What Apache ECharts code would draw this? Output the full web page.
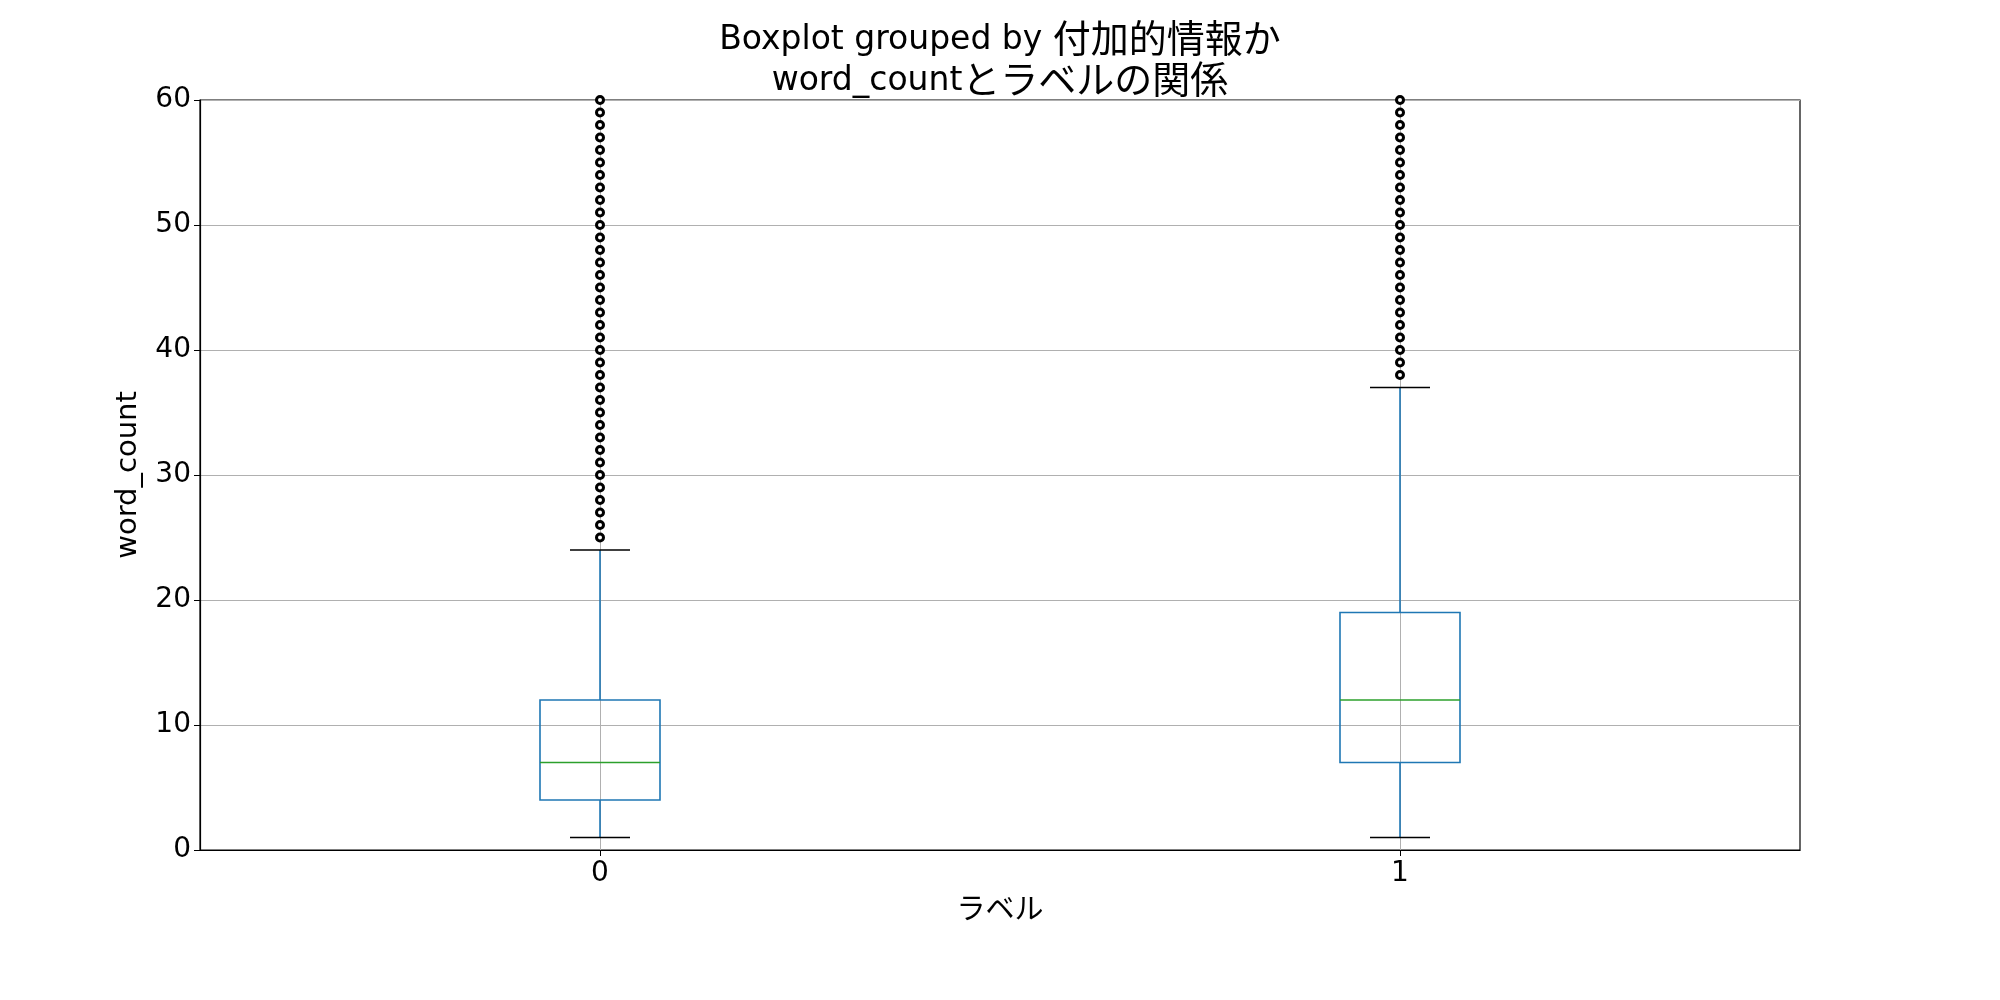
<!DOCTYPE html>
<html>
<head>
<meta charset="utf-8">
<script src="https://cdn.jsdelivr.net/npm/echarts@6/dist/echarts.min.js"></script>
<style>
  html, body { margin: 0; padding: 0; background: #fff; }
  #chart { width: 2000px; height: 1000px; }
</style>
</head>
<body>
<div id="chart"></div>
<script>
// カテゴリ（ラベル）
var categories = ['0', '1'];
// 箱ひげの統計量
var whiskerLow  = [1, 1];
var q1          = [4, 7];
var median      = [7, 12];
var q3          = [12, 19];
var whiskerHigh = [24, 37];
// 外れ値（60以上は軸外）
var outliers0 = [25, 26, 27, 28, 29, 30, 31, 32, 33, 34, 35, 36, 37, 38, 39, 40, 41, 42,
                 43, 44, 45, 46, 47, 48, 49, 50, 51, 52, 53, 54, 55, 56, 57, 58, 59, 60];
var outliers1 = [38, 39, 40, 41, 42, 43, 44, 45, 46, 47, 48, 49, 50, 51, 52, 53, 54, 55,
                 56, 57, 58, 59, 60];
// y軸目盛
var yTicks = [0, 10, 20, 30, 40, 50, 60];

var LATIN = "'DejaVu Sans', 'Noto Sans CJK JP'";
var CJK = "'Noto Sans CJK JP'";

var boxData = categories.map(function (c, i) {
    return [i, whiskerLow[i], q1[i], median[i], q3[i], whiskerHigh[i]];
});
var outlierData = [];
outliers0.forEach(function (v) { outlierData.push([0, v]); });
outliers1.forEach(function (v) { outlierData.push([1, v]); });

function renderBox(params, api) {
    var idx = api.value(0);
    var band = api.size([1, 0])[0];
    var half = band * 0.075;
    var capHalf = band * 0.0375;
    var pLow = api.coord([idx, api.value(1)]);
    var pQ1 = api.coord([idx, api.value(2)]);
    var pMed = api.coord([idx, api.value(3)]);
    var pQ3 = api.coord([idx, api.value(4)]);
    var pHigh = api.coord([idx, api.value(5)]);
    var cx = pMed[0];
    var blue = {stroke: '#1f77b4', lineWidth: 1.6, fill: null};
    return {
        type: 'group',
        children: [
            {type: 'line', shape: {x1: cx, y1: pQ1[1], x2: cx, y2: pLow[1]}, style: blue},
            {type: 'line', shape: {x1: cx, y1: pQ3[1], x2: cx, y2: pHigh[1]}, style: blue},
            {type: 'rect', shape: {x: cx - half, y: pQ3[1], width: half * 2, height: pQ1[1] - pQ3[1]}, style: blue},
            {type: 'line', shape: {x1: cx - half, y1: pMed[1], x2: cx + half, y2: pMed[1]},
                style: {stroke: '#2ca02c', lineWidth: 1.6}},
            {type: 'line', shape: {x1: cx - capHalf, y1: pLow[1], x2: cx + capHalf, y2: pLow[1]},
                style: {stroke: '#000', lineWidth: 1.6}},
            {type: 'line', shape: {x1: cx - capHalf, y1: pHigh[1], x2: cx + capHalf, y2: pHigh[1]},
                style: {stroke: '#000', lineWidth: 1.6}}
        ]
    };
}

// タイトル用リッチテキスト（欧文と和文でサイズを変える）
var titleRich = {
    a: {fontFamily: LATIN, fontSize: 33, fontWeight: 'normal', color: '#000', lineHeight: 44, verticalAlign: 'bottom'},
    c: {fontFamily: CJK, fontSize: 38, fontWeight: 'normal', color: '#000', lineHeight: 44, verticalAlign: 'bottom'}
};

var chart = echarts.init(document.getElementById('chart'));
var option = {
    backgroundColor: '#fff',
    animation: false,
    textStyle: {fontFamily: LATIN},
    title: [
        {
            text: '{a|Boxplot grouped by }{c|付加的情報か}',
            left: 'center',
            top: 8,
            textStyle: {fontWeight: 'normal', rich: titleRich}
        },
        {
            text: '{a|word_count}{c|とラベルの関係}',
            left: 'center',
            top: 49,
            textStyle: {fontWeight: 'normal', rich: titleRich}
        }
    ],
    grid: {
        left: 200, right: 200, top: 100, bottom: 150,
        show: true, borderColor: '#000', borderWidth: 1.2, backgroundColor: 'transparent'
    },
    xAxis: {
        type: 'category',
        data: categories,
        boundaryGap: true,
        name: 'ラベル',
        nameLocation: 'middle',
        nameGap: 43,
        nameTextStyle: {fontFamily: CJK, fontSize: 29, color: '#000'},
        axisLine: {show: true, lineStyle: {color: '#000', width: 1.2}},
        axisTick: {show: true, alignWithLabel: true, length: 6, lineStyle: {color: '#000'}},
        axisLabel: {fontFamily: LATIN, fontSize: 28, color: '#000', margin: 10},
        splitLine: {show: false}
    },
    yAxis: {
        type: 'value',
        min: yTicks[0],
        max: yTicks[yTicks.length - 1],
        interval: 10,
        name: 'word_count',
        nameLocation: 'middle',
        nameGap: 57,
        nameTextStyle: {fontFamily: LATIN, fontSize: 29, color: '#000'},
        axisLine: {show: true, lineStyle: {color: '#000', width: 1.2}},
        axisTick: {show: true, length: 6, lineStyle: {color: '#000'}},
        axisLabel: {fontFamily: LATIN, fontSize: 28, color: '#000', margin: 9},
        splitLine: {show: true, lineStyle: {color: '#b0b0b0', width: 1}}
    },
    series: [
        {
            type: 'custom',
            name: 'box',
            renderItem: renderBox,
            data: boxData,
            z: 3,
            markLine: {
                silent: true,
                symbol: 'none',
                label: {show: false},
                lineStyle: {color: '#b0b0b0', width: 1, type: 'solid'},
                data: [{xAxis: '0'}, {xAxis: '1'}],
                z: 1
            }
        },
        {
            type: 'scatter',
            name: 'outliers',
            data: outlierData,
            symbol: 'circle',
            symbolSize: 7,
            clip: true,
            z: 4,
            itemStyle: {color: '#fff', borderColor: '#000', borderWidth: 3, opacity: 1}
        }
    ]
};
chart.setOption(option);
</script>
</body>
</html>
